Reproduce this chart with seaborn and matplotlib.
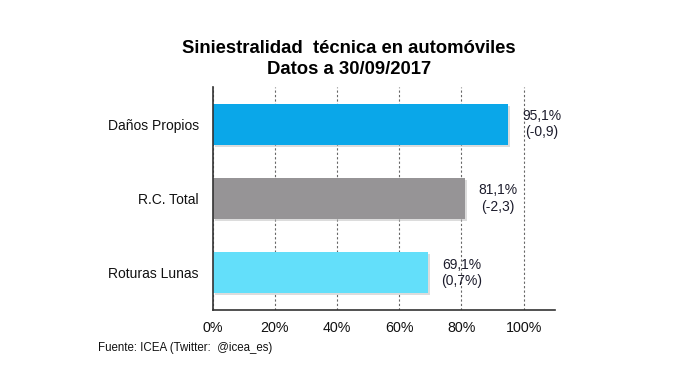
import matplotlib
matplotlib.use("Agg")
import matplotlib.pyplot as plt
import matplotlib.patheffects as pe
import seaborn as sns
import pandas as pd

# datos del gráfico
categorias = ["Daños Propios", "R.C. Total", "Roturas Lunas"]
valores = [95.1, 81.1, 69.1]
etiquetas_valor = ["95,1%", "81,1%", "69,1%"]
variaciones = ["(-0,9)", "(-2,3)", "(0,7%)"]
colores = ["#0AA7E9", "#969496", "#63DFFA"]
ticks_x = [0, 20, 40, 60, 80, 100]
ticks_x_txt = ["0%", "20%", "40%", "60%", "80%", "100%"]

sns.set_theme(style="white")
plt.rcParams['font.family'] = ['Liberation Sans', 'DejaVu Sans']
plt.rcParams['text.color'] = '#111111'

df = pd.DataFrame({"categoria": categorias, "valor": valores})

fig = plt.figure(figsize=(6.96, 3.75), dpi=100)
ax = fig.add_axes([0.3056, 0.1733, 0.4914, 0.5947])

sns.barplot(data=df, x="valor", y="categoria", hue="categoria",
            palette=colores, orient="h", width=0.55, legend=False,
            saturation=1, linewidth=0, ax=ax)

for bar in ax.patches:
    bar.set_path_effects([pe.SimplePatchShadow(offset=(1.5, -1.5), shadow_rgbFace="#bbbbbb", alpha=0.5),
                          pe.Normal()])

for i, (v, txt, var) in enumerate(zip(valores, etiquetas_valor, variaciones)):
    ax.annotate(f"{txt}\n{var}", xy=(v, i), xytext=(10, 0), textcoords="offset points",
                ha="left", va="center", multialignment="center",
                fontsize=10, color="#1c1c2c", linespacing=1.2)

ax.set_xlim(0, 110)
ax.set_ylim(2.5, -0.5)
ax.set_xticks(ticks_x)
ax.set_xticklabels(ticks_x_txt, fontsize=10.3, color="#111111")
ax.set_yticks(range(len(categorias)))
ax.set_yticklabels(categorias, fontsize=10, color="#111111")
ax.set_xlabel("")
ax.set_ylabel("")

ax.set_yticks([-0.5, 0.5, 1.5, 2.5], minor=True)
ax.tick_params(axis="y", which="major", length=0, pad=10)
ax.tick_params(axis="y", which="minor", length=4, width=1, color="#333333", direction="out")
ax.tick_params(axis="x", which="major", length=3, width=1, color="#333333", direction="out", pad=5)

ax.grid(axis="x", linestyle=(0, (2, 2)), color="#666666", linewidth=0.8)
ax.set_axisbelow(True)
for s in ["top", "right"]:
    ax.spines[s].set_visible(False)
for s in ["left", "bottom"]:
    ax.spines[s].set_color("#333333")
    ax.spines[s].set_linewidth(1.2)

fig.text(0.501, 0.843, "Siniestralidad  técnica en automóviles\nDatos a 30/09/2017",
         ha="center", va="center", fontsize=13.3, fontweight="bold", linespacing=1.32,
         color="black")
fig.text(0.141, 0.072, "Fuente: ICEA (Twitter:  @icea_es)", ha="left", va="center",
         fontsize=8.3, color="#111111")

fig.savefig("out.png", dpi=100)
